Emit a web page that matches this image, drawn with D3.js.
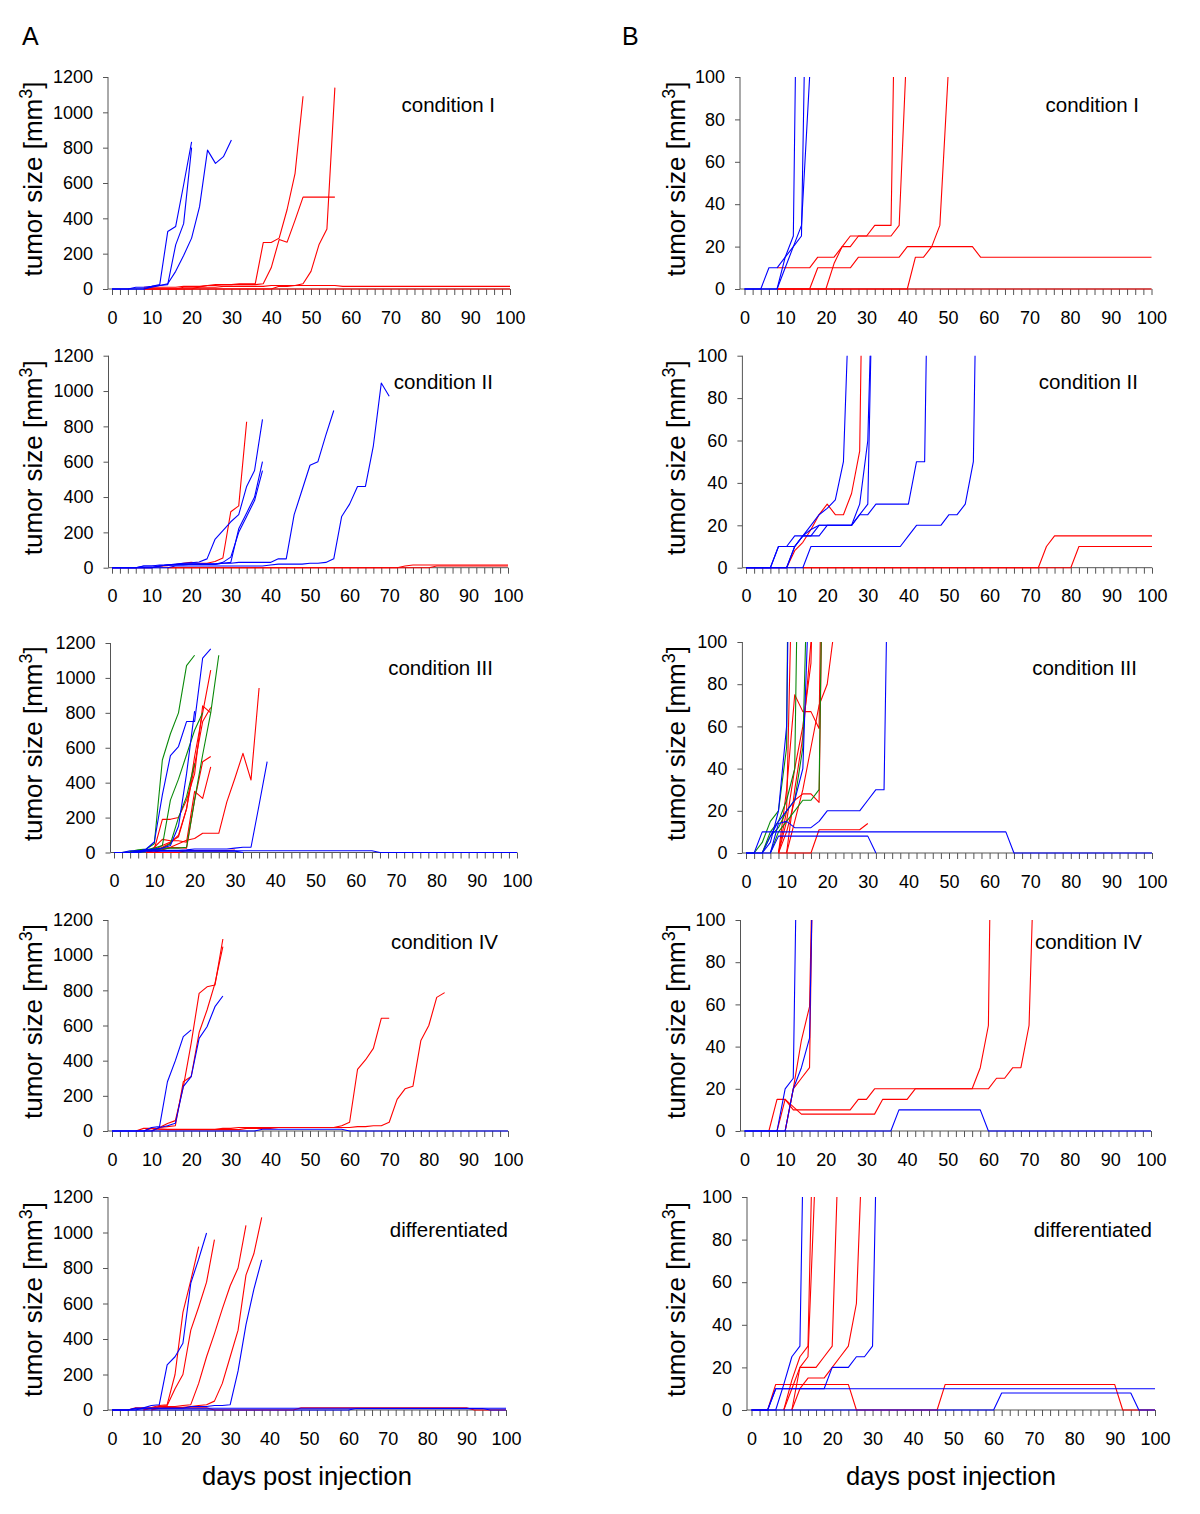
<!DOCTYPE html>
<html><head><meta charset="utf-8">
<script src="https://cdn.jsdelivr.net/npm/d3@7"></script>
<style>body{margin:0;background:#fff}text{font-family:"Liberation Sans",Arial,Helvetica,sans-serif}</style>
</head><body><svg id="c" width="1200" height="1514" xmlns="http://www.w3.org/2000/svg"></svg>
<script>
// ---------- labels / ticks ----------
const panelLetters = ["A", "B"];
const conditionNames = ["condition I", "condition II", "condition III", "condition IV", "differentiated"];
const yTitle = "tumor size [mm";
const xTitle = "days post injection";
const xTickLabels = [0, 10, 20, 30, 40, 50, 60, 70, 80, 90, 100];
const yTicksA = [0, 200, 400, 600, 800, 1000, 1200];
const yTicksB = [0, 20, 40, 60, 80, 100];

// ---------- data: [day, tumor size mm3] per animal ----------
const c1Red = [
  [[8,0],[100,0]],
  [[8,0],[16,0],[18,10],[26,10],[28,15],[38,15],[40,20],[56,20],[58,15],[100,15]],
  [[8,10],[16,10],[18,15],[22,15],[24,20],[26,20],[28,25],[36,25],[38,30],[40,120],[42,280],[44,265],[46,390],[48,520],[56,520]],
  [[8,0],[20,0],[22,12],[24,20],[26,25],[30,25],[32,30],[36,30],[38,263],[40,263],[42,288],[44,450],[46,655],[48,1091]],
  [[8,0],[40,0],[42,15],[44,15],[46,20],[48,30],[50,100],[52,250],[54,340],[56,1140]]
];
const c1Blue = [
  [[0,0],[4,0],[6,10],[8,10],[10,15],[12,25],[14,325],[16,354],[18,590],[20,833]],
  [[0,0],[8,0],[10,15],[12,20],[14,25],[16,250],[18,370],[20,800]],
  [[0,0],[8,0],[10,10],[12,20],[14,30],[16,100],[18,190],[20,288],[22,466],[24,786],[26,711],[28,749],[30,843]]
];

const c2Red = [
  [[14,0],[72,0],[74,10],[76,15],[100,15]],
  [[14,0],[80,0],[82,10],[100,10]],
  [[0,0],[10,0],[12,8],[14,12],[16,18],[18,25],[20,30],[22,25],[24,25],[26,35],[28,55],[30,317],[32,350],[34,826]]
];
const c2Blue = [
  [[0,0],[10,0],[12,10],[14,15],[16,20],[18,25],[20,28],[22,32],[24,50],[26,160],[28,210],[30,260],[32,300],[34,460],[36,550],[38,840]],
  [[0,0],[10,0],[12,10],[14,15],[16,15],[18,20],[26,20],[28,25],[30,30],[32,220],[34,310],[36,400],[38,600]],
  [[0,0],[6,0],[8,10],[12,10],[14,15],[16,18],[18,20],[26,20],[28,30],[30,60],[32,200],[34,290],[36,380],[38,550]],
  [[0,0],[6,0],[8,10],[10,10],[12,15],[18,15],[20,20],[26,20],[28,25],[30,25],[32,30],[40,30],[42,50],[44,50],[46,300],[48,440],[50,580],[52,600],[54,750],[56,890]],
  [[0,0],[14,0],[16,10],[38,10],[40,15],[42,20],[48,20],[50,25],[52,25],[54,30],[56,50],[58,290],[60,360],[62,460],[64,460],[66,690],[68,1045],[70,970]]
];

const c3Red = [
  [[8,0],[16,0],[18,11],[28,11],[30,14]],
  [[8,0],[10,20],[12,190],[14,190],[16,200],[18,300],[20,450],[22,840],[24,800]],
  [[8,0],[10,30],[12,75],[14,67],[16,67],[18,59],[20,350],[22,310],[24,490]],
  [[8,0],[10,15],[12,40],[14,60],[16,90],[18,250],[20,500],[22,750],[24,830]],
  [[8,0],[10,10],[12,25],[14,28],[16,28],[18,24],[20,300],[22,520],[24,550]],
  [[10,0],[12,30],[14,55],[16,100],[18,250],[20,550],[22,800],[24,1045]],
  [[10,0],[12,15],[14,30],[16,50],[18,70],[20,80],[22,110],[24,110],[26,110],[28,290],[30,425],[32,568],[34,415],[36,942]]
];
const c3Green = [
  [[0,0],[2,0],[4,5],[6,15],[8,20],[10,50],[12,530],[14,680],[16,800],[18,1070],[20,1130]],
  [[4,0],[6,10],[8,15],[10,25],[12,40],[14,300],[16,420],[18,560],[20,700],[22,800]],
  [[4,0],[6,8],[8,12],[10,20],[12,25],[14,50],[16,200],[18,320],[20,510]],
  [[6,0],[8,10],[10,15],[12,20],[14,25],[16,25],[18,30],[20,300],[22,560],[24,800],[26,1130]]
];
const c3Blue = [
  [[0,0],[2,0],[4,10],[64,10],[66,0],[100,0]],
  [[6,0],[8,8],[30,8],[32,0]],
  [[0,0],[6,0],[8,14],[10,15],[12,12],[16,12],[18,15],[20,20],[28,20],[30,25],[32,30],[34,30],[36,272],[38,520]],
  [[4,0],[6,8],[8,15],[10,20],[12,25],[14,40],[16,150],[18,450],[20,810]],
  [[0,0],[4,0],[6,5],[8,20],[10,60],[12,330],[14,555],[16,607],[18,750],[20,750],[22,1114],[24,1166]]
];

const c4Red = [
  [[6,0],[8,15],[10,15],[12,10],[26,10],[28,15],[30,15],[32,20],[56,20],[58,30],[60,50],[62,350],[64,404],[66,470],[68,641],[70,641]],
  [[8,0],[10,15],[14,8],[32,8],[34,15],[40,15],[42,20],[60,20],[62,25],[64,25],[66,30],[68,30],[70,50],[72,180],[74,240],[76,255],[78,515],[80,600],[82,760],[84,787]],
  [[10,0],[12,20],[14,43],[16,59],[18,250],[20,500],[22,783],[24,820],[26,830],[28,1092]],
  [[10,0],[12,20],[14,25],[16,30],[18,280],[20,310],[22,560],[24,688],[26,840],[28,1048]]
];
const c4Blue = [
  [[0,0],[36,0],[38,10],[58,10],[60,0],[100,0]],
  [[0,0],[8,0],[10,20],[12,25],[14,280],[16,400],[18,537],[20,575]],
  [[0,0],[10,0],[12,20],[14,30],[16,44],[18,252],[20,309],[22,527],[24,593],[26,707],[28,768]]
];

const c5Red = [
  [[0,0],[4,0],[6,12],[24,12],[26,0],[46,0],[48,12],[90,12],[92,0],[100,0]],
  [[8,0],[10,14],[12,25],[14,30],[16,200],[18,550],[20,730],[22,921]],
  [[8,0],[10,10],[12,20],[14,25],[16,120],[18,200],[20,450],[22,580],[24,720],[26,960]],
  [[10,0],[12,20],[16,20],[18,25],[20,30],[22,150],[24,300],[26,430],[28,570],[30,700],[32,800],[34,1040]],
  [[10,0],[12,10],[14,15],[18,15],[20,20],[22,25],[24,30],[26,50],[28,150],[30,300],[32,450],[34,760],[36,880],[38,1085]]
];
const c5Blue = [
  [[0,0],[4,0],[6,10],[100,10]],
  [[0,0],[60,0],[62,8],[94,8],[96,0],[100,0]],
  [[0,0],[4,0],[6,10],[18,10],[20,20],[24,20],[26,25],[28,25],[30,30],[32,220],[34,480],[36,680],[38,846]],
  [[0,0],[6,0],[8,12],[10,25],[12,30],[14,254],[16,300],[18,376],[20,715],[22,850],[24,997]]
];

const conditionSeries = [
  [["red", c1Red], ["blue", c1Blue]],
  [["red", c2Red], ["blue", c2Blue]],
  [["red", c3Red], ["green", c3Green], ["blue", c3Blue]],
  [["red", c4Red], ["blue", c4Blue]],
  [["red", c5Red], ["blue", c5Blue]]
];

// ---------- styling / layout ----------
const colors = {red: "#ff0000", blue: "#0000ff", green: "#0a8a0a"};
const axisColor = "#555";
const layoutA = [
  {top:77, bottom:289, axisX:108, x0:112, x100:510, labRight:495, labY:105},
  {top:355.7, bottom:567.7, axisX:108.5, x0:112, x100:508, labRight:493, labY:382},
  {top:643, bottom:852.5, axisX:110.5, x0:114, x100:517, labRight:493, labY:668},
  {top:920, bottom:1131, axisX:108, x0:112, x100:508, labRight:498, labY:942},
  {top:1197, bottom:1410, axisX:108, x0:112, x100:506, labRight:508, labY:1230}
];
const layoutB = [
  {top:77, bottom:289, axisX:740, x0:744.5, x100:1151.5, labRight:1139, labY:105},
  {top:355.7, bottom:567.7, axisX:742.4, x0:746, x100:1152, labRight:1138, labY:382},
  {top:642, bottom:853, axisX:742.4, x0:746, x100:1152, labRight:1137, labY:668},
  {top:920, bottom:1131, axisX:740.5, x0:744.5, x100:1151, labRight:1142, labY:942},
  {top:1197, bottom:1410, axisX:747, x0:751.5, x100:1155, labRight:1152, labY:1230}
];

const svg = d3.select("#c");
const defs = svg.append("defs");
let clipCount = 0;

function drawPanel(L, yMax, yTicks, groups, label, titleX) {
  const x = d3.scaleLinear().domain([0, 100]).range([L.x0, L.x100]);
  const y = d3.scaleLinear().domain([0, yMax]).range([L.bottom, L.top]);
  const g = svg.append("g");
  const cid = "clip" + (clipCount++);
  defs.append("clipPath").attr("id", cid).append("rect")
    .attr("x", L.axisX).attr("y", L.top).attr("width", L.x100 - L.axisX + 6).attr("height", L.bottom - L.top + 2);

  // x axis
  const xa = d3.axisBottom(x).tickValues(d3.range(0, 101, 2))
    .tickFormat(d => xTickLabels.includes(d) ? String(d) : "").tickSize(6).tickPadding(16).tickSizeOuter(0);
  const gx = g.append("g").attr("transform", `translate(0,${L.bottom})`).call(xa);
  gx.select(".domain").remove();
  gx.selectAll("line").attr("stroke", axisColor);
  gx.selectAll("text").attr("font-size", 18).attr("fill", "#000").style("font-family", "Liberation Sans, Arial, sans-serif");
  g.append("line").attr("x1", L.axisX).attr("x2", x(100)).attr("y1", L.bottom).attr("y2", L.bottom).attr("stroke", axisColor);

  // y axis
  const ya = d3.axisLeft(y).tickValues(yTicks).tickFormat(d => String(d)).tickSize(5).tickPadding(10).tickSizeOuter(0);
  const gy = g.append("g").attr("transform", `translate(${L.axisX},0)`).call(ya);
  gy.select(".domain").remove();
  gy.selectAll("line").attr("stroke", axisColor);
  gy.selectAll("text").attr("font-size", 18).attr("fill", "#000").style("font-family", "Liberation Sans, Arial, sans-serif");
  g.append("line").attr("x1", L.axisX).attr("x2", L.axisX).attr("y1", L.bottom).attr("y2", y(yMax)).attr("stroke", axisColor);

  // lines
  const line = d3.line().x(d => x(d[0])).y(d => y(d[1]));
  const lg = g.append("g").attr("clip-path", `url(#${cid})`);
  groups.forEach(([col, arr]) => {
    arr.forEach(s => {
      lg.append("path").attr("d", line(s)).attr("fill", "none")
        .attr("stroke", colors[col]).attr("stroke-width", 1.1).attr("stroke-linejoin", "round");
    });
  });

  // condition label
  g.append("text").attr("x", L.labRight).attr("y", L.labY).attr("dy", "0.35em")
    .attr("text-anchor", "end").attr("font-size", 20.5).text(label);

  // y title
  const cy = (L.top + L.bottom) / 2 - 4;
  const t = g.append("text").attr("transform", `translate(${titleX},${cy}) rotate(-90)`)
    .attr("text-anchor", "middle").attr("dy", "0.35em").attr("font-size", 26);
  t.append("tspan").text(yTitle);
  t.append("tspan").attr("font-size", 18).attr("dy", "-0.55em").text("3");
  t.append("tspan").attr("dy", "0.38em").text("]");
}

for (let i = 0; i < 5; i++) {
  drawPanel(layoutA[i], 1200, yTicksA, conditionSeries[i], conditionNames[i], 33);
  drawPanel(layoutB[i], 100, yTicksB, conditionSeries[i], conditionNames[i], 676);
}

svg.append("text").attr("x", 22).attr("y", 45).attr("font-size", 25).text(panelLetters[0]);
svg.append("text").attr("x", 622).attr("y", 45).attr("font-size", 25).text(panelLetters[1]);
svg.append("text").attr("x", 307).attr("y", 1485).attr("text-anchor", "middle").attr("font-size", 25.5).text(xTitle);
svg.append("text").attr("x", 951).attr("y", 1485).attr("text-anchor", "middle").attr("font-size", 25.5).text(xTitle);
</script>
</body></html>
